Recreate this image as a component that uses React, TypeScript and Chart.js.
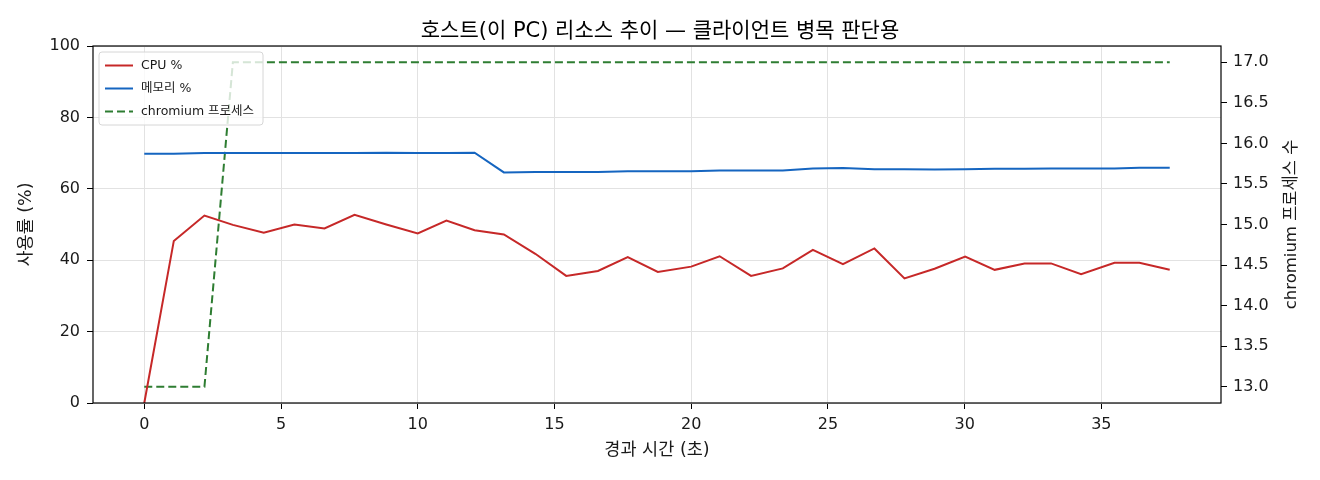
import { useEffect, useRef } from "react";
import { Chart, registerables } from "chart.js";

Chart.register(...registerables);

const FONT = '"DejaVu Sans", "Noto Sans CJK KR", sans-serif';
const GRID = "#e2e2e2";
const INK = "#1a1a1a";

// elapsed time (s) of each sample
const elapsedSec = [
  0, 1.08, 2.2, 3.24, 4.37, 5.49, 6.59, 7.69, 8.85, 10.0, 11.05, 12.08, 13.15, 14.3, 15.43, 16.59, 17.68, 18.78,
  20.0, 21.04, 22.19, 23.35, 24.45, 25.55, 26.7, 27.8, 28.9, 30.02, 31.1, 32.19, 33.16, 34.26, 35.48, 36.39, 37.5,
];

const cpuPct = [
  0, 45.4, 52.5, 49.9, 47.7, 50.0, 48.9, 52.7, 50.0, 47.5, 51.1, 48.4, 47.2, 41.8, 35.6, 37.0, 40.9, 36.7, 38.2,
  41.1, 35.6, 37.7, 42.9, 38.9, 43.3, 34.9, 37.6, 41.0, 37.3, 39.1, 39.1, 36.1, 39.3, 39.3, 37.3,
];

const memPct = [
  69.8, 69.8, 70.0, 70.0, 70.0, 70.0, 70.0, 70.0, 70.1, 70.0, 70.0, 70.1, 64.6, 64.7, 64.7, 64.7, 64.9, 64.9, 64.9,
  65.1, 65.1, 65.1, 65.7, 65.8, 65.5, 65.5, 65.4, 65.5, 65.6, 65.6, 65.7, 65.7, 65.7, 65.9, 65.9,
];

const chromiumProcs = [
  13, 13, 13, 17, 17, 17, 17, 17, 17, 17, 17, 17, 17, 17, 17, 17, 17, 17, 17, 17, 17, 17, 17, 17, 17, 17, 17, 17,
  17, 17, 17, 17, 17, 17, 17,
];

const xTicks = [0, 5, 10, 15, 20, 25, 30, 35];
const pctTicks = [0, 20, 40, 60, 80, 100];
const procTicks = [13.0, 13.5, 14.0, 14.5, 15.0, 15.5, 16.0, 16.5, 17.0];

const seriesLabels = ["CPU %", "메모리 %", "chromium 프로세스"];
const seriesColors = ["#c62828", "#1565c0", "#2e7d32"];

const toPoints = (ys: number[]) => ys.map((y, i) => ({ x: elapsedSec[i], y }));

const framePlugin = {
  id: "frame",
  afterDatasetsDraw(chart: Chart) {
    const { ctx, chartArea: a } = chart;
    ctx.save();
    ctx.strokeStyle = "#000";
    ctx.lineWidth = 1.2;
    ctx.strokeRect(a.left, a.top, a.right - a.left, a.bottom - a.top);
    ctx.restore();
  },
};

const legendPlugin = {
  id: "boxLegend",
  afterDraw(chart: Chart) {
    const { ctx, chartArea: a } = chart;
    const bx = a.left + 6;
    const by = a.top + 6;
    ctx.save();
    ctx.beginPath();
    ctx.roundRect(bx, by, 164, 73, 3);
    ctx.fillStyle = "rgba(255,255,255,0.8)";
    ctx.fill();
    ctx.strokeStyle = "#d6d6d6";
    ctx.lineWidth = 1;
    ctx.stroke();
    ctx.font = `12.5px ${FONT}`;
    ctx.textBaseline = "middle";
    seriesLabels.forEach((label, i) => {
      const y = by + 13.5 + i * 23;
      ctx.beginPath();
      ctx.strokeStyle = seriesColors[i];
      ctx.lineWidth = 2;
      ctx.setLineDash(i === 2 ? [8, 4] : []);
      ctx.moveTo(bx + 6, y);
      ctx.lineTo(bx + 34, y);
      ctx.stroke();
      ctx.setLineDash([]);
      ctx.fillStyle = INK;
      ctx.fillText(label, bx + 42, y);
    });
    ctx.restore();
  },
};

const rightTitlePlugin = {
  id: "rightTitle",
  afterDraw(chart: Chart) {
    const { ctx, chartArea: a } = chart;
    ctx.save();
    ctx.translate(1292, (a.top + a.bottom) / 2);
    ctx.rotate(-Math.PI / 2);
    ctx.font = `16.5px ${FONT}`;
    ctx.fillStyle = INK;
    ctx.textAlign = "center";
    ctx.textBaseline = "middle";
    ctx.fillText("chromium 프로세스 수", 0, 0);
    ctx.restore();
  },
};

function ResourceChart() {
  const chartRef = useRef<HTMLCanvasElement | null>(null);
  const chartInstance = useRef<Chart | null>(null);

  useEffect(() => {
    if (!chartRef.current) return;
    document.body.style.margin = "0";

    const ctx = chartRef.current.getContext("2d");
    if (!ctx) return;

    if (chartInstance.current) {
      chartInstance.current.destroy();
    }

    const tickFont = { family: FONT, size: 16 };
    const titleFont = { family: FONT, size: 17.5 };

    chartInstance.current = new Chart(ctx, {
      type: "line",
      data: {
        datasets: [
          {
            label: seriesLabels[0],
            data: toPoints(cpuPct),
            borderColor: seriesColors[0],
            borderWidth: 2,
            yAxisID: "y",
          },
          {
            label: seriesLabels[1],
            data: toPoints(memPct),
            borderColor: seriesColors[1],
            borderWidth: 2,
            yAxisID: "y",
          },
          {
            label: seriesLabels[2],
            data: toPoints(chromiumProcs),
            borderColor: seriesColors[2],
            borderWidth: 2,
            borderDash: [8, 4],
            yAxisID: "y1",
          },
        ],
      },
      options: {
        responsive: false,
        animation: false,
        elements: {
          point: { radius: 0 },
          line: { tension: 0 },
        },
        layout: { padding: 0 },
        plugins: {
          legend: { display: false },
          tooltip: { enabled: false },
          title: {
            display: true,
            text: "호스트(이 PC) 리소스 추이 — 클라이언트 병목 판단용",
            font: { family: FONT, size: 21, weight: "normal" },
            color: "#000",
            padding: { top: 18.5, bottom: 2.3 },
          },
        },
        scales: {
          x: {
            type: "linear",
            min: -1.875,
            max: 39.375,
            afterBuildTicks: (s: any) => {
              s.ticks = xTicks.map((value) => ({ value }));
            },
            afterFit: (s: any) => {
              s.height = 77;
            },
            grid: { color: GRID, tickColor: "#000", tickLength: 6 },
            border: { display: false },
            ticks: {
              font: tickFont,
              color: INK,
              padding: 6,
              maxRotation: 0,
              autoSkip: false,
              callback: (v: any) => String(v),
            },
            title: {
              display: true,
              text: "경과 시간 (초)",
              font: titleFont,
              color: INK,
              padding: { top: 0, bottom: 19.5 },
            },
          },
          y: {
            position: "left",
            min: 0,
            max: 100,
            afterBuildTicks: (s: any) => {
              s.ticks = pctTicks.map((value) => ({ value }));
            },
            afterFit: (s: any) => {
              s.width = 93;
            },
            grid: { color: GRID, tickColor: "#000", tickLength: 6 },
            border: { display: false },
            ticks: { font: tickFont, color: INK, padding: 7 },
            title: {
              display: true,
              text: "사용률 (%)",
              font: titleFont,
              color: INK,
              padding: { top: 16, bottom: 0 },
            },
          },
          y1: {
            position: "right",
            min: 12.8,
            max: 17.2,
            afterBuildTicks: (s: any) => {
              s.ticks = procTicks.map((value) => ({ value }));
            },
            afterFit: (s: any) => {
              s.width = 99;
            },
            grid: { drawOnChartArea: false, tickColor: "#000", tickLength: 6 },
            border: { display: false },
            ticks: {
              font: tickFont,
              color: INK,
              padding: 6,
              callback: (v: any) => Number(v).toFixed(1),
            },
          },
        },
      },
      plugins: [framePlugin, legendPlugin, rightTitlePlugin],
    });

    return () => {
      if (chartInstance.current) {
        chartInstance.current.destroy();
        chartInstance.current = null;
      }
    };
  }, []);

  return <canvas ref={chartRef} width={1320} height={480} />;
}

export default function App() {
  return (
    <div style={{ width: 1320, height: 480, background: "#fff" }}>
      <ResourceChart />
    </div>
  );
}
